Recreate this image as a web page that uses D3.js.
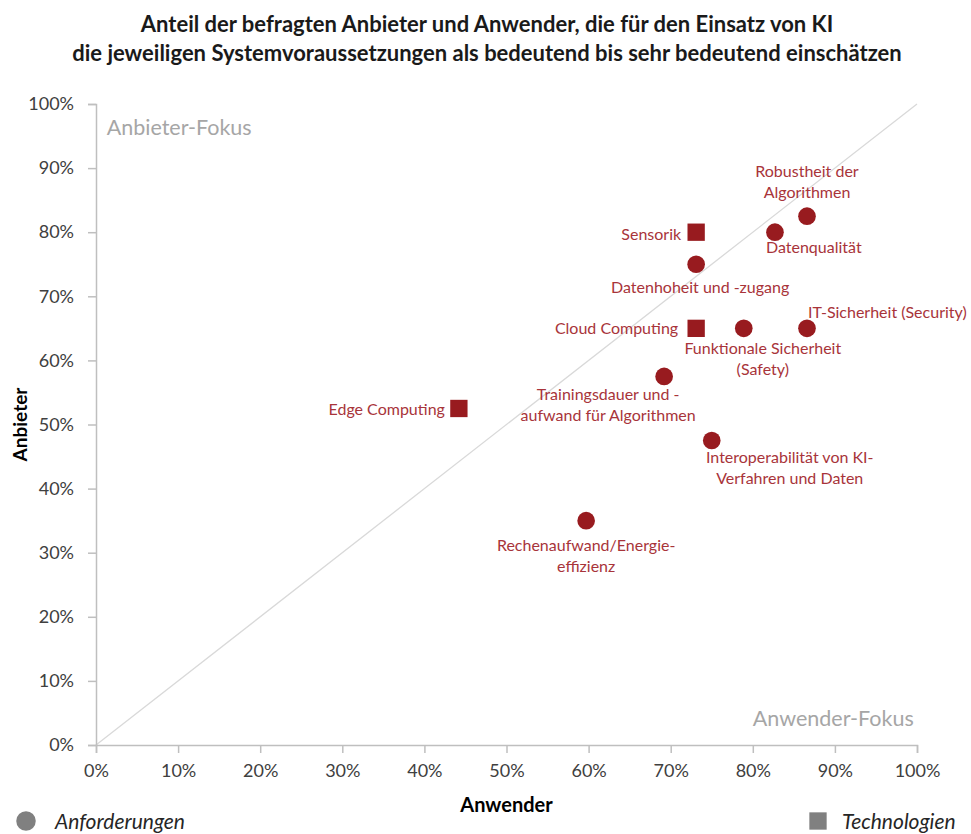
<!DOCTYPE html>
<html>
<head>
<meta charset="utf-8">
<script src="https://cdn.jsdelivr.net/npm/d3@7"></script>
<style>
  body { margin: 0; background: #fff; }
  #chart { width: 971px; height: 834px; }
</style>
</head>
<body>
<div id="chart"></div>
<script>
// values (percent)
var names = [
  "Robustheit der\nAlgorithmen",
  "Datenqualität",
  "Sensorik",
  "Datenhoheit und -zugang",
  "Cloud Computing",
  "Funktionale Sicherheit\n(Safety)",
  "IT-Sicherheit (Security)",
  "Trainingsdauer und -\naufwand für Algorithmen",
  "Edge Computing",
  "Interoperabilität von KI-\nVerfahren und Daten",
  "Rechenaufwand/Energie-\neffizienz"
];
var anwender = [86.6, 82.7, 73.1, 73.1, 73.1, 78.9, 86.6, 69.2, 44.2, 75.0, 59.7];
var anbieter = [82.5, 80.0, 80.0, 75.0, 65.0, 65.0, 65.0, 57.5, 52.5, 47.5, 35.0];
var kinds = ["Anforderungen", "Anforderungen", "Technologien", "Anforderungen", "Technologien",
             "Anforderungen", "Anforderungen", "Anforderungen", "Technologien", "Anforderungen", "Anforderungen"];
var tickValues = [0, 10, 20, 30, 40, 50, 60, 70, 80, 90, 100];
var titleLines = [
  "Anteil der befragten Anbieter und Anwender, die für den Einsatz von KI",
  "die jeweiligen Systemvoraussetzungen als bedeutend bis sehr bedeutend einschätzen"
];

// label placement relative to the marker: dx, dy (first baseline), anchor
var labelPos = [
  [0, -39, "middle"],
  [-9, 21, "start"],
  [-15, 8, "end"],
  [4, 29, "middle"],
  [-18, 6, "end"],
  [19, 26, "middle"],
  [1, -10, "start"],
  [-56, 24, "middle"],
  [-14, 7, "end"],
  [78, 22, "middle"],
  [0, 30, "middle"]
];

var red = "#981b1f", labelRed = "#a8343a", axisGrey = "#bfbfbf";
var font = "Lato, 'Open Sans', sans-serif";

var margin = {top: 104, right: 54, bottom: 89, left: 96},
    width = 971 - margin.left - margin.right,
    height = 834 - margin.top - margin.bottom;

var svg = d3.select("#chart").append("svg")
    .attr("width", 971)
    .attr("height", 834)
    .style("font-family", font);

svg.append("g")
    .attr("text-anchor", "middle")
    .style("font-weight", "bold")
    .style("font-size", "22px")
    .attr("fill", "#1a1a1a")
  .selectAll("text")
  .data(titleLines)
  .enter().append("text")
    .attr("x", 487)
    .attr("y", (d, i) => 32 + i * 29)
    .text(d => d);

var x = d3.scaleLinear().domain([0, 100]).range([0, width]);
var y = d3.scaleLinear().domain([0, 100]).range([height, 0]);

var g = svg.append("g")
    .attr("transform", "translate(" + margin.left + "," + margin.top + ")");

// diagonal
g.append("line")
    .attr("x1", x(0)).attr("y1", y(0))
    .attr("x2", x(100)).attr("y2", y(100))
    .attr("stroke", "#d9d9d9")
    .attr("stroke-width", 1.3);

var fmt = d => d + "%";

var xAxis = g.append("g")
    .attr("transform", "translate(0," + height + ")")
    .call(d3.axisBottom(x).tickValues(tickValues).tickFormat(fmt).tickSizeOuter(0).tickSize(8).tickPadding(9));

var yAxis = g.append("g")
    .call(d3.axisLeft(y).tickValues(tickValues).tickFormat(fmt).tickSizeOuter(0).tickSize(8).tickPadding(14));

[xAxis, yAxis].forEach(function(a) {
  a.selectAll("path, line").attr("stroke", axisGrey).attr("stroke-width", 1.5);
  a.selectAll("text")
      .attr("fill", "#404040")
      .style("font-size", "18px")
      .style("font-family", font);
});
xAxis.selectAll("text").attr("dy", "0.85em");

svg.append("text")
    .attr("x", margin.left + x(50))
    .attr("y", 812)
    .attr("text-anchor", "middle")
    .style("font-weight", "bold")
    .style("font-size", "20px")
    .text("Anwender");

svg.append("text")
    .attr("transform", "translate(27," + (margin.top + y(50)) + ") rotate(-90)")
    .attr("text-anchor", "middle")
    .style("font-weight", "bold")
    .style("font-size", "19px")
    .text("Anbieter");

// focus areas
g.append("text")
    .attr("x", x(1.3))
    .attr("y", y(95.1))
    .attr("fill", "#a6a6a6")
    .style("font-size", "21.5px")
    .text("Anbieter-Fokus");

g.append("text")
    .attr("x", x(99.6))
    .attr("y", y(2.9))
    .attr("text-anchor", "end")
    .attr("fill", "#a6a6a6")
    .style("font-size", "21.5px")
    .text("Anwender-Fokus");

var pts = names.map((n, i) => ({name: n, ax: anwender[i], ab: anbieter[i], kind: kinds[i], pos: labelPos[i]}));

var sym = d3.symbol().type(d => d.kind == "Technologien" ? d3.symbolSquare : d3.symbolCircle)
    .size(d => d.kind == "Technologien" ? 300 : 245);

g.append("g")
  .selectAll("path")
  .data(pts)
  .enter().append("path")
    .attr("transform", d => "translate(" + x(d.ax) + "," + y(d.ab) + ")")
    .attr("d", sym)
    .attr("fill", red);

var labels = g.append("g")
    .attr("fill", labelRed)
    .style("font-size", "16px")
  .selectAll("text")
  .data(pts)
  .enter().append("text")
    .attr("text-anchor", d => d.pos[2])
    .attr("transform", d => "translate(" + (x(d.ax) + d.pos[0]) + "," + (y(d.ab) + d.pos[1]) + ")");

labels.selectAll("tspan")
  .data(d => d.name.split("\n"))
  .enter().append("tspan")
    .attr("x", 0)
    .attr("y", (d, i) => i * 21)
    .text(d => d);

// legend
var legend = [
  {kind: "Anforderungen", x: 26, tx: 55},
  {kind: "Technologien", x: 818, tx: 842}
];
var lg = svg.append("g").selectAll("g")
  .data(legend)
  .enter().append("g");
lg.append("path")
    .attr("transform", d => "translate(" + d.x + ",821)")
    .attr("d", d3.symbol().type(d => d.kind == "Technologien" ? d3.symbolSquare : d3.symbolCircle).size(d => d.kind == "Technologien" ? 300 : 300))
    .attr("fill", "#808080");
lg.append("text")
    .attr("x", d => d.tx)
    .attr("y", 829)
    .style("font-style", "italic")
    .style("font-size", "21px")
    .attr("fill", "#262626")
    .text(d => d.kind);
</script>
</body>
</html>
